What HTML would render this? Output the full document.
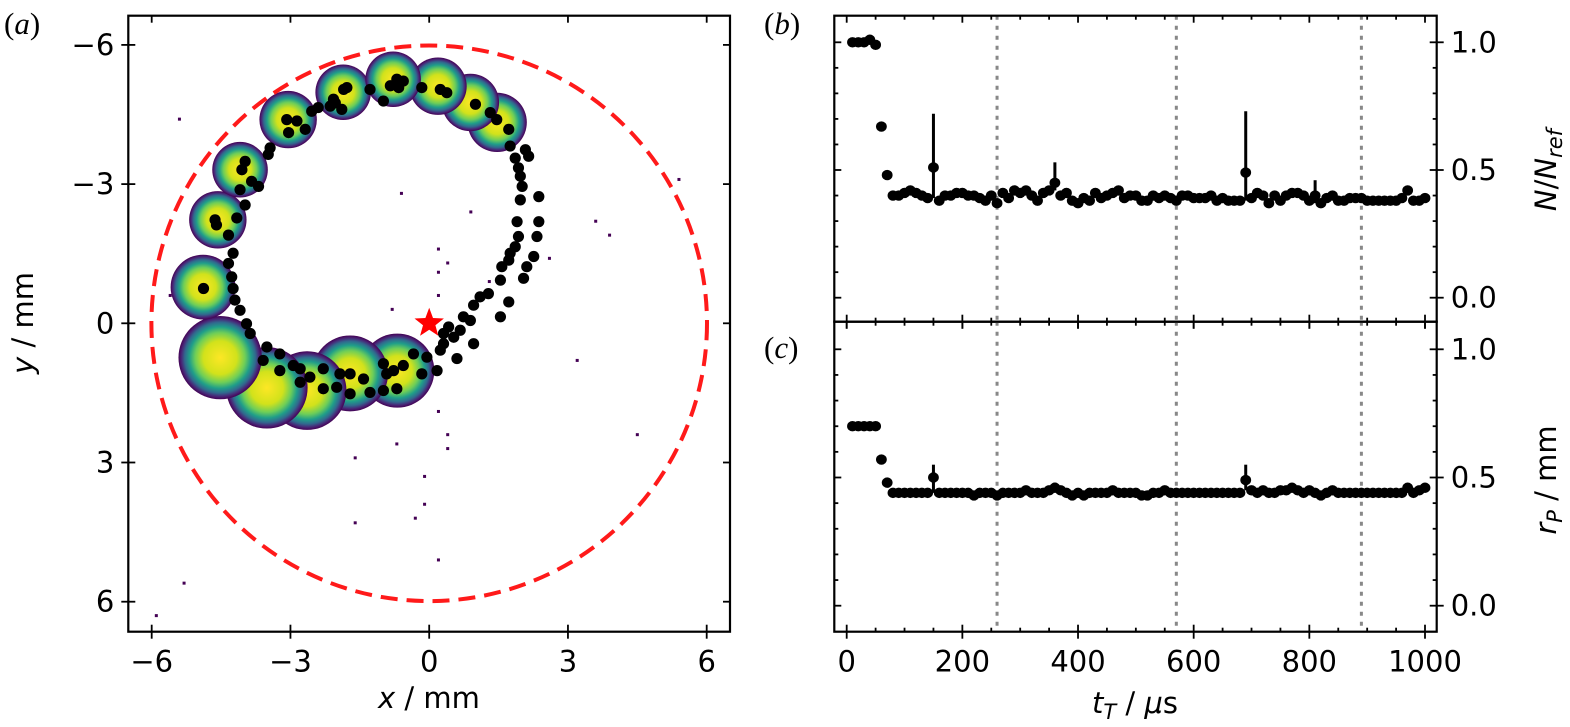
<!DOCTYPE html>
<html><head><meta charset="utf-8"><style>
html,body{margin:0;padding:0;background:#fff;}
svg{display:block;font-family:"DejaVu Sans","Liberation Sans",sans-serif;}
</style></head><body>
<svg id="fig" width="1570" height="727" viewBox="0 0 1570 727" xmlns="http://www.w3.org/2000/svg">
<defs>
<radialGradient id="vir" cx="50%" cy="50%" r="50%">
<stop offset="0" stop-color="#fde725"/><stop offset="0.4" stop-color="#d2e21b"/><stop offset="0.6" stop-color="#6ece58"/><stop offset="0.74" stop-color="#1f9e89"/><stop offset="0.85" stop-color="#31688e"/><stop offset="0.93" stop-color="#482878"/><stop offset="1" stop-color="#440154"/>
</radialGradient>
<clipPath id="clipA"><rect x="128.3" y="15.7" width="601.7" height="616"/></clipPath>
</defs>
<g id="panelA"></g>
<g id="panelB"></g>
<g id="panelC"></g>
<text x="4" y="34" font-family="Liberation Serif,serif" font-size="31">(<tspan font-style="italic">a</tspan>)</text>
<text x="764" y="34" font-family="Liberation Serif,serif" font-size="31">(<tspan font-style="italic">b</tspan>)</text>
<text x="764" y="358" font-family="Liberation Serif,serif" font-size="31">(<tspan font-style="italic">c</tspan>)</text>
<text x="429" y="708" text-anchor="middle" font-size="29"><tspan font-style="italic">x</tspan> / mm</text>
<text transform="translate(33,323) rotate(-90)" text-anchor="middle" font-size="29"><tspan font-style="italic">y</tspan> / mm</text>
<text x="1135" y="713" text-anchor="middle" font-size="29"><tspan font-style="italic">t</tspan><tspan font-style="italic" font-size="21" dy="6">T</tspan><tspan dy="-6"> / </tspan><tspan font-style="italic">μ</tspan>s</text>
<text transform="translate(1556,170) rotate(-90)" text-anchor="middle" font-size="29"><tspan font-style="italic">N</tspan>/<tspan font-style="italic">N</tspan><tspan font-style="italic" font-size="21" dy="6">ref</tspan></text>
<text transform="translate(1556,480) rotate(-90)" text-anchor="middle" font-size="29"><tspan font-style="italic">r</tspan><tspan font-style="italic" font-size="21" dy="6">P</tspan><tspan dy="-6"> / mm</tspan></text>
</svg>
<script>
// ---------- Panel (a) data (mm) ----------
var blobX=[-0.69,-1.71,-2.64,-3.51,-4.52,-4.89,-4.57,-4.09,-3.05,-1.86,1.47,0.89,0.19,-0.78];
var blobY=[1.02,1.08,1.45,1.39,0.74,-0.78,-2.23,-3.31,-4.39,-4.98,-4.33,-4.76,-5.11,-5.26];
var blobR=[0.8,0.82,0.85,0.88,0.9,0.7,0.62,0.6,0.62,0.6,0.64,0.62,0.62,0.6];
var dotX=[-0.70,-0.56,-0.84,-0.66,-1.28,-0.99,-0.16,0.24,0.38,1.00,1.32,1.46,1.72,1.75,2.08,1.86,2.15,1.93,1.97,2.01,1.97,2.37,1.90,2.37,2.33,1.93,1.86,1.75,2.26,1.72,1.57,2.11,1.54,2.04,1.28,1.10,0.96,1.72,0.89,0.74,1.54,0.67,0.42,0.31,0.53,0.96,0.31,0.24,0.60,0.17,-0.05,-0.16,-0.34,-0.56,-0.77,-0.99,-0.92,-0.70,-0.99,-1.28,-1.42,-1.71,-1.93,-2.00,-2.29,-1.71,-2.29,-2.58,-2.79,-2.79,-2.94,-3.23,-3.23,-3.51,-3.59,-3.87,-3.95,-4.09,-4.20,-4.24,-4.27,-4.34,-4.24,-4.34,-4.16,-3.98,-4.09,-3.84,-3.69,-4.05,-3.98,-4.63,-4.60,-4.88,-3.48,-3.44,-3.04,-3.08,-2.86,-2.68,-2.54,-2.40,-2.14,-2.07,-1.89,-1.85,-1.78,-2.03];
var dotY=[-5.26,-5.22,-5.12,-5.08,-5.04,-4.79,-5.08,-5.04,-4.97,-4.72,-4.54,-4.39,-4.18,-3.82,-3.74,-3.56,-3.60,-3.35,-3.17,-2.95,-2.66,-2.73,-2.19,-2.19,-1.87,-1.87,-1.65,-1.51,-1.44,-1.36,-1.22,-1.22,-0.93,-0.97,-0.64,-0.57,-0.39,-0.46,-0.06,-0.14,-0.14,0.15,0.08,0.22,0.30,0.44,0.44,0.58,0.76,1.02,0.73,1.09,0.66,0.91,1.02,0.87,1.09,1.41,1.45,1.49,1.20,1.09,1.09,1.38,1.41,1.52,0.98,1.16,1.27,0.98,0.91,1.02,0.66,0.51,0.80,0.22,0.01,-0.28,-0.50,-0.75,-1.00,-1.29,-1.51,-1.90,-2.27,-2.55,-2.88,-3.06,-2.95,-3.31,-3.49,-2.23,-2.12,-0.75,-3.64,-3.78,-4.11,-4.39,-4.36,-4.18,-4.57,-4.65,-4.68,-4.83,-4.61,-5.04,-5.08,-4.75];
var specX=[-5.4,-0.6,0.9,3.6,5.4,-2.3,-0.8,0.2,0.2,0.2,0.2,0.4,0.4,-0.1,-0.1,-0.3,-1.6,1.3,2.6,0.2,-5.9,-5.3,4.5,3.9,-5.6,-0.7,-1.6,0.4,3.2];
var specY=[-4.4,-2.8,-2.4,-2.2,-3.1,1.2,-0.3,-1.6,-1.1,-0.6,1.9,2.4,2.7,3.3,3.9,4.2,4.3,-0.9,-1.4,5.1,6.3,5.6,2.4,-1.9,-0.6,2.6,2.9,-1.3,0.8];
var circleR=[6];
var xTicksA=[-6,-3,0,3,6];
var yTicksA=[-6,-3,0,3,6];
// ---------- Panels (b),(c) data ----------
var tVals=[10,20,30,40,50,60,70,80,90,100,110,120,130,140,150,160,170,180,190,200,210,220,230,240,250,260,270,280,290,300,310,320,330,340,350,360,370,380,390,400,410,420,430,440,450,460,470,480,490,500,510,520,530,540,550,560,570,580,590,600,610,620,630,640,650,660,670,680,690,700,710,720,730,740,750,760,770,780,790,800,810,820,830,840,850,860,870,880,890,900,910,920,930,940,950,960,970,980,990,1000];
var nVals=[1.00,1.00,1.00,1.01,0.99,0.67,0.48,
0.40,0.40,0.41,0.42,0.41,0.40,0.39,
0.51,0.38,0.40,0.40,0.41,0.41,0.40,0.40,0.39,
0.38,0.40,0.37,0.41,0.39,0.42,0.41,0.42,0.40,0.38,
0.41,0.42,0.45,0.40,0.41,0.38,0.37,0.39,0.38,0.41,
0.39,0.40,0.41,0.42,0.39,0.40,0.40,0.38,0.38,0.40,
0.39,0.40,0.39,0.38,0.40,0.40,0.39,0.39,0.39,0.40,
0.38,0.39,0.38,0.38,0.38,0.49,0.39,0.41,0.40,0.37,
0.40,0.38,0.40,0.41,0.41,0.40,0.38,0.40,0.37,0.39,
0.40,0.38,0.38,0.39,0.39,0.39,0.38,0.38,0.38,0.38,
0.38,0.38,0.39,0.42,0.38,0.38,0.39];
var rVals=[0.70,0.70,0.70,0.70,0.70,0.57,0.48,
0.44,0.44,0.44,0.44,0.44,0.44,0.44,
0.50,0.44,0.44,0.44,0.44,0.44,0.44,0.43,0.44,
0.44,0.44,0.43,0.44,0.44,0.44,0.44,0.45,0.44,0.44,
0.44,0.45,0.46,0.45,0.44,0.43,0.44,0.43,0.44,0.44,
0.44,0.44,0.45,0.44,0.44,0.44,0.44,0.43,0.43,0.44,
0.44,0.45,0.44,0.44,0.44,0.44,0.44,0.44,0.44,0.44,
0.44,0.44,0.44,0.44,0.44,0.49,0.45,0.44,0.45,0.44,
0.44,0.45,0.45,0.46,0.45,0.44,0.45,0.44,0.43,0.44,
0.45,0.44,0.44,0.44,0.44,0.44,0.44,0.44,0.44,0.44,
0.44,0.44,0.44,0.46,0.44,0.45,0.46];
var errTN=[150,360,690,810];
var errHiN=[0.72,0.53,0.73,0.46];
var errLoN=[0.39,0.42,0.38,0.37];
var errTR=[150,360,690];
var errHiR=[0.55,0.48,0.55];
var errLoR=[0.44,0.45,0.45];
var vLines=[260,570,890];
var tTicks=[0,200,400,600,800,1000];
var vTicks=[0.0,0.5,1.0];

var NS="http://www.w3.org/2000/svg";
function mk(parent,tag,attrs){var e=document.createElementNS(NS,tag);for(var k in attrs)e.setAttribute(k,attrs[k]);parent.appendChild(e);return e;}

var A={x0:128.3,x1:730,y0:15.7,y1:631.7};
function ax(v){return 429.2+v*46.25;}
function ay(v){return 323.3+v*46.4;}
var R={x0:834.3,x1:1436.7};
function tx(t){return 846.7+t*0.5783;}
function byN(v){return 297.7-v*255.4;}
function byR(v){return 605.7-v*256.4;}

var gA=document.getElementById('panelA');
var cg=mk(gA,'g',{'clip-path':'url(#clipA)'});
specX.forEach(function(x,i){
 var s=mk(cg,'rect',{x:ax(x)-1.5,y:ay(specY[i])-1.5,width:3,height:3,fill:'#440154'});
 
 
});
blobX.forEach(function(x,i){
 var c=mk(cg,'circle',{cx:ax(x),cy:ay(blobY[i]),r:blobR[i]*46.3,fill:'url(#vir)'});
 
 
});
var circ=mk(cg,'circle',{cx:ax(0),cy:ay(0),r:circleR[0]*46.3,fill:'none',stroke:'#ff1a1a','stroke-width':4,'stroke-dasharray':'17 9'});


dotX.forEach(function(x,i){
 var d=mk(cg,'circle',{cx:ax(x),cy:ay(dotY[i]),r:5.6,fill:'#000'});
 
 
});
(function(){var cx=ax(0),cy=ay(0),pts=[];for(var k=0;k<10;k++){var rr=k%2?6.5:15.5,a=-Math.PI/2+k*Math.PI/5;pts.push((cx+rr*Math.cos(a)).toFixed(1)+','+(cy+rr*Math.sin(a)).toFixed(1));}
 var st=mk(gA,'polygon',{points:pts.join(' '),fill:'#ff0000'});
 
 })();
var fa=mk(gA,'rect',{x:A.x0,y:A.y0,width:A.x1-A.x0,height:A.y1-A.y0,fill:'none',stroke:'#000','stroke-width':2.2});


xTicksA.forEach(function(v){var x=ax(v);
 mk(gA,'line',{x1:x,x2:x,y1:A.y1-7,y2:A.y1+7,stroke:'#000','stroke-width':1.8});
 mk(gA,'line',{x1:x,x2:x,y1:A.y0,y2:A.y0+7,stroke:'#000','stroke-width':1.8});
 var t=mk(gA,'text',{x:x,y:A.y1+40,'text-anchor':'middle','font-size':29});
 t.textContent=(v<0?'\u2212':'')+Math.abs(v);
 
 
});
yTicksA.forEach(function(v){var y=ay(v);
 mk(gA,'line',{x1:A.x0-7,x2:A.x0+7,y1:y,y2:y,stroke:'#000','stroke-width':1.8});
 mk(gA,'line',{x1:A.x1-7,x2:A.x1,y1:y,y2:y,stroke:'#000','stroke-width':1.8});
 var t=mk(gA,'text',{x:A.x0-14,y:y+10,'text-anchor':'end','font-size':29});
 t.textContent=(v<0?'\u2212':'')+Math.abs(v);
 
 
});

function panel(g,yTop,yBot,by,vals,eT,eHi,eLo,showX,nm){
 vLines.forEach(function(t){
  var l=mk(g,'line',{x1:tx(t),x2:tx(t),y1:yTop,y2:yBot,stroke:'#888','stroke-width':3,'stroke-dasharray':'4 6'});
  
  
 });
 eT.forEach(function(t,i){
  var e=mk(g,'line',{x1:tx(t),x2:tx(t),y1:by(eHi[i]),y2:by(eLo[i]),stroke:'#000','stroke-width':3});
  
  
 });
 tVals.forEach(function(t,i){
  var d=mk(g,'ellipse',{cx:tx(t),cy:by(vals[i]),rx:5.4,ry:5.2,fill:'#000'});
  
  
 });
 var f=mk(g,'rect',{x:R.x0,y:yTop,width:R.x1-R.x0,height:yBot-yTop,fill:'none',stroke:'#000','stroke-width':2.2});
 
 
 for(var t=0;t<=1000;t+=50){var x=tx(t),maj=(t%200===0);
  mk(g,'line',{x1:x,x2:x,y1:yBot-(maj?7:4),y2:yBot+(maj?7:0),stroke:'#000','stroke-width':1.8});
  mk(g,'line',{x1:x,x2:x,y1:yTop,y2:yTop+(maj?7:4),stroke:'#000','stroke-width':1.8});}
 for(var k=0;k<=10;k++){var v=k/10,y=by(v),maj=(k%5===0);
  mk(g,'line',{x1:R.x0,x2:R.x0+(maj?7:4),y1:y,y2:y,stroke:'#000','stroke-width':1.8});
  mk(g,'line',{x1:R.x1-(maj?7:4),x2:R.x1+(maj?7:0),y1:y,y2:y,stroke:'#000','stroke-width':1.8});}
 vTicks.forEach(function(v){
  var t=mk(g,'text',{x:R.x1+14,y:by(v)+10,'font-size':29});
  t.textContent=v.toFixed(1);
  
  
 });
 if(showX){tTicks.forEach(function(v){
  var t=mk(g,'text',{x:tx(v),y:yBot+40,'text-anchor':'middle','font-size':29});
  t.textContent=String(v);
  
  
 });}
}
panel(document.getElementById('panelB'),15.7,321.7,byN,nVals,errTN,errHiN,errLoN,false,'n-ratio');
panel(document.getElementById('panelC'),321.7,631.7,byR,rVals,errTR,errHiR,errLoR,true,'radius');
</script>
</body></html>
